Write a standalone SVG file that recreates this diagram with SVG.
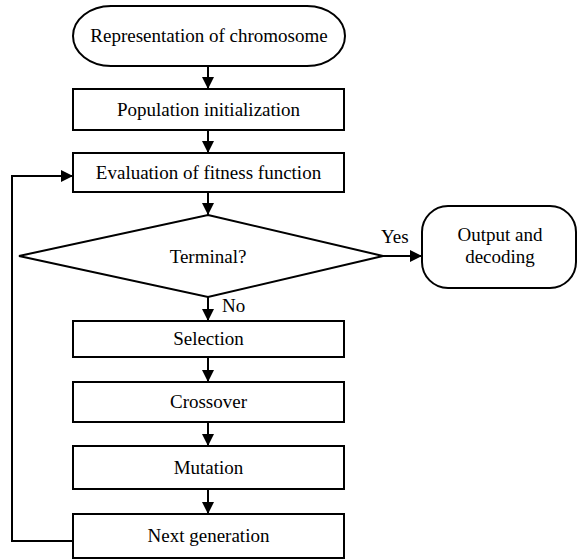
<svg xmlns="http://www.w3.org/2000/svg" width="578" height="560" viewBox="0 0 578 560">
<style>
.box{fill:#fff;stroke:#000;stroke-width:2}
.t{font-family:"Liberation Serif","Times New Roman",serif;font-size:19px;fill:#000;text-anchor:middle}
.l{font-family:"Liberation Serif","Times New Roman",serif;font-size:19px;fill:#000}
.c{fill:none;stroke:#000;stroke-width:2}
</style>
<defs>
<marker id="ah" markerWidth="12" markerHeight="12" viewBox="0 0 12 12" refX="12" refY="6" orient="auto" markerUnits="userSpaceOnUse">
<path d="M0,0 L12,6 L0,12 Z" fill="#000"/>
</marker>
</defs>
<rect width="578" height="560" fill="#fff"/>
<g id="connectors">
<line class="c" x1="208" y1="66" x2="208" y2="89" marker-end="url(#ah)"/>
<line class="c" x1="208" y1="130" x2="208" y2="153" marker-end="url(#ah)"/>
<line class="c" x1="208" y1="192" x2="208" y2="215" marker-end="url(#ah)"/>
<line class="c" x1="383" y1="256" x2="422" y2="256" marker-end="url(#ah)"/>
<line class="c" x1="208" y1="297" x2="208" y2="321" marker-end="url(#ah)"/>
<line class="c" x1="208" y1="357" x2="208" y2="382" marker-end="url(#ah)"/>
<line class="c" x1="208" y1="422" x2="208" y2="446" marker-end="url(#ah)"/>
<line class="c" x1="208" y1="489" x2="208" y2="514" marker-end="url(#ah)"/>
<polyline class="c" points="72,541 12,541 12,176 73,176" marker-end="url(#ah)"/>
<text class="l" x="381" y="243">Yes</text>
<text class="l" x="222" y="312">No</text>
</g>
<g id="n-representation">
<rect class="box" x="73" y="6" width="272" height="60" rx="38" ry="30"/>
<text class="t" x="209" y="42">Representation of chromosome</text>
</g>
<g id="n-population">
<rect class="box" x="73" y="89" width="271" height="41"/>
<text class="t" x="208.5" y="116">Population initialization</text>
</g>
<g id="n-evaluation">
<rect class="box" x="73" y="153" width="271" height="39"/>
<text class="t" x="208.5" y="179">Evaluation of fitness function</text>
</g>
<g id="n-terminal">
<polygon class="box" points="208,215 383,256 208,297 19,256"/>
<text class="t" x="208" y="263">Terminal?</text>
</g>
<g id="n-output">
<rect class="box" x="422" y="206" width="154" height="82" rx="26" ry="26"/>
<text class="t" x="500" y="241">Output and</text>
<text class="t" x="500" y="263">decoding</text>
</g>
<g id="n-selection">
<rect class="box" x="73" y="321" width="271" height="36"/>
<text class="t" x="208.5" y="345">Selection</text>
</g>
<g id="n-crossover">
<rect class="box" x="73" y="382" width="271" height="40"/>
<text class="t" x="208.5" y="408">Crossover</text>
</g>
<g id="n-mutation">
<rect class="box" x="73" y="446" width="271" height="43"/>
<text class="t" x="208.5" y="474">Mutation</text>
</g>
<g id="n-next">
<rect class="box" x="73" y="514" width="271" height="44"/>
<text class="t" x="208.5" y="542">Next generation</text>
</g>
</svg>
